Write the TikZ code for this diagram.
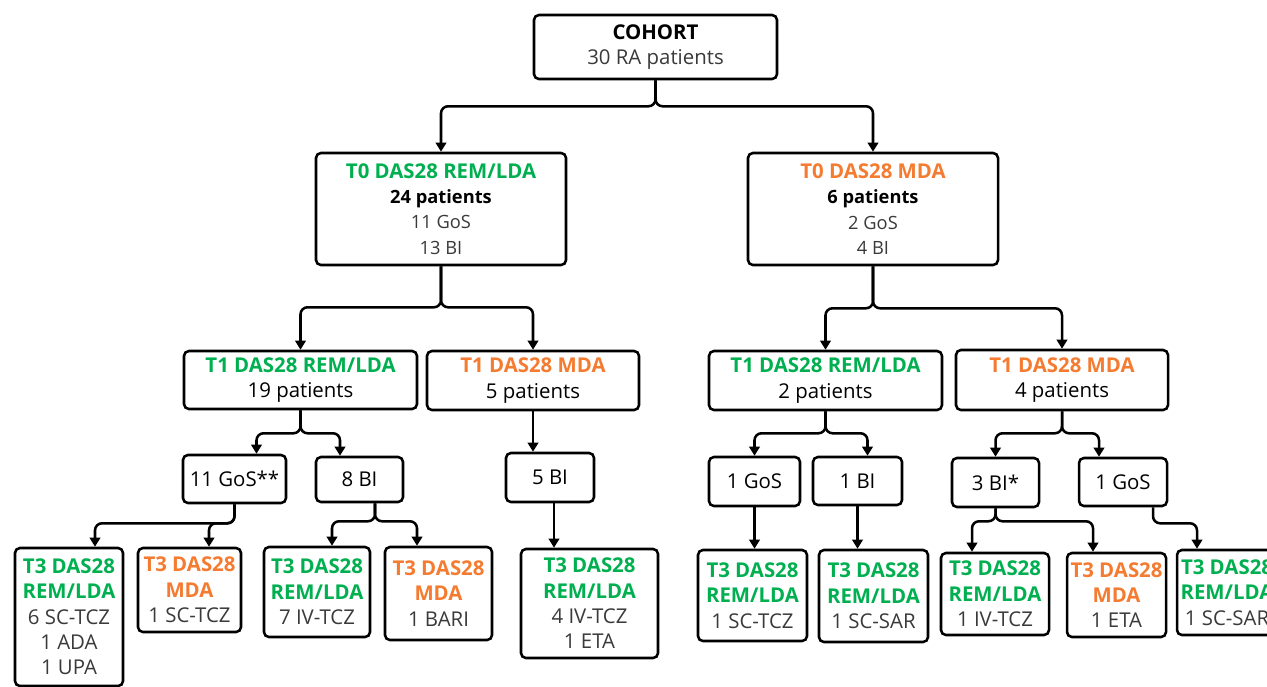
\documentclass[tikz,border=0pt]{standalone}
\usepackage{fontspec}
\setmainfont{Open Sans}
\usetikzlibrary{arrows.meta, calc}
\definecolor{remgreen}{HTML}{00B050}
\definecolor{mdaorange}{HTML}{F47B30}
\definecolor{txtgray}{HTML}{3A3A3A}
\newcommand{\remhead}[1]{{\bfseries\color{remgreen}#1}}
\newcommand{\mdahead}[1]{{\bfseries\color{mdaorange}#1}}
\newcommand{\drugline}[1]{{\color{txtgray}#1}}
\newcommand{\smallline}[1]{{\fontsize{13}{18}\selectfont#1}}

\begin{document}
\begin{tikzpicture}[x=0.025cm, y=-0.025cm,
    box/.style={draw, line width=1.8pt, rounded corners=3.5pt, align=center,
      inner sep=2pt, font=\fontsize{14.5}{18}\selectfont},
    sz/.style 2 args={minimum width=#1*0.025cm, minimum height=#2*0.025cm},
    conn/.style={line width=1.8pt, rounded corners=5pt,
      -{Triangle[length=6.5pt,width=7.5pt]}}]
            \useasboundingbox (0,0) rectangle (1267,686);
            \fill[white] (0,0) rectangle (1267,686);
            \clip (0,0) rectangle (1267,686);
            % top
            \node[box, sz={243}{64}] (cohort) at (655.5,47)
                {\textbf{COHORT}\\\drugline{30 RA patients}};
            % T0
            \node[box, sz={250}{112}] (t0rem) at (441,209)
                {\remhead{T0 DAS28 REM/LDA}\\\smallline{\textbf{24 patients}}\\\smallline{\drugline{11 GoS}}\\\smallline{\drugline{13 BI}}};
            \node[box, sz={250}{112}] (t0mda) at (873,209)
                {\mdahead{T0 DAS28 MDA}\\\smallline{\textbf{6 patients}}\\\smallline{\drugline{2 GoS}}\\\smallline{\drugline{4 BI}}};
            % T1
            \node[box, sz={233}{58}] (t1remA) at (300.5,380)
                {\remhead{T1 DAS28 REM/LDA}\\19 patients};
            \node[box, sz={212}{59}] (t1mdaA) at (533,380.5)
                {\mdahead{T1 DAS28 MDA}\\5 patients};
            \node[box, sz={233}{59}] (t1remB) at (825.5,380.5)
                {\remhead{T1 DAS28 REM/LDA}\\2 patients};
            \node[box, sz={212}{60}] (t1mdaB) at (1062,380)
                {\mdahead{T1 DAS28 MDA}\\4 patients};
            % treatment groups
            \node[box, sz={103}{48}] (gosA) at (234.5,479) {11 GoS**};
            \node[box, sz={87}{45}] (biA) at (359.5,479.5) {8 BI};
            \node[box, sz={88}{49}] (biB) at (550,477.5) {5 BI};
            \node[box, sz={91}{49}] (gosB) at (754.5,481.5) {1 GoS};
            \node[box, sz={89}{48}] (biC) at (857.5,481) {1 BI};
            \node[box, sz={87}{49}] (biD) at (995.5,482.5) {3 BI*};
            \node[box, sz={88}{48}] (gosC) at (1123,482) {1 GoS};
            % T3
            \node[box, sz={108}{138}] (t3a) at (69,617)
                {\remhead{T3 DAS28}\\\remhead{REM/LDA}\\\drugline{6 SC-TCZ}\\\drugline{1 ADA}\\\drugline{1 UPA}};
            \node[box, sz={103}{84}] (t3b) at (189.5,590)
                {\mdahead{T3 DAS28}\\\mdahead{MDA}\\\drugline{1 SC-TCZ}};
            \node[box, sz={106}{90}] (t3c) at (317,592)
                {\remhead{T3 DAS28}\\\remhead{REM/LDA}\\\drugline{7 IV-TCZ}};
            \node[box, sz={107}{93}] (t3d) at (438.5,593.5)
                {\mdahead{T3 DAS28}\\\mdahead{MDA}\\\drugline{1 BARI}};
            \node[box, sz={137}{109}] (t3e) at (589.5,603.5)
                {\remhead{T3 DAS28}\\\remhead{REM/LDA}\\\drugline{4 IV-TCZ}\\\drugline{1 ETA}};
            \node[box, sz={109}{91}] (t3f) at (752.5,595.5)
                {\remhead{T3 DAS28}\\\remhead{REM/LDA}\\\drugline{1 SC-TCZ}};
            \node[box, sz={109}{92}] (t3g) at (873.5,596)
                {\remhead{T3 DAS28}\\\remhead{REM/LDA}\\\drugline{1 SC-SAR}};
            \node[box, sz={108}{82}] (t3h) at (995,594)
                {\remhead{T3 DAS28}\\\remhead{REM/LDA}\\\drugline{1 IV-TCZ}};
            \node[box, sz={99}{84}] (t3i) at (1116.5,595)
                {\mdahead{T3 DAS28}\\\mdahead{MDA}\\\drugline{1 ETA}};
            \node[box, sz={100}{85}] (t3j) at (1227,592.5)
                {\remhead{T3 DAS28}\\\remhead{REM/LDA}\\\drugline{1 SC-SAR}};
            % connectors
            \draw[conn] (cohort.south) -- ++(0,26) -| (t0rem.north);
            \draw[conn] (cohort.south) -- ++(0,26) -| (t0mda.north);
            \draw[conn] (t0rem.south) -- ++(0,41) -| (t1remA.north);
            \draw[conn] (t0rem.south) -- ++(0,41) -| (t1mdaA.north);
            \draw[conn] (t0mda.south) -- ++(0,42) -| (t1remB.north);
            \draw[conn] (t0mda.south) -- ++(0,42) -| (t1mdaB.north);
            \draw[conn] (t1remA.south) -- ++(0,23) -| ($(gosA.north)+(22,0)$);
            \draw[conn] (t1remA.south) -- ++(0,23) -| ($(biA.north)+(-19.5,0)$);
            \draw[conn] (t1mdaA.south) -- (t1mdaA.south |- biB.north);
            \draw[conn] (t1remB.south) -- ++(0,22) -| (gosB.north);
            \draw[conn] (t1remB.south) -- ++(0,22) -| ($(biC.north)+(10,0)$);
            \draw[conn] (t1mdaB.south) -- ++(0,22) -| (biD.north);
            \draw[conn] (t1mdaB.south) -- ++(0,22) -| ($(gosC.north)+(-24,0)$);
            \draw[conn] (gosA.south) -- ++(0,19) -| ($(t3a.north)+(26,0)$);
            \draw[conn] (gosA.south) -- ++(0,19) -| ($(t3b.north)+(19.5,0)$);
            \draw[conn] ($(biA.south)+(15.5,0)$) -- ++(0,18) -| ($(t3c.north)+(15,0)$);
            \draw[conn] ($(biA.south)+(15.5,0)$) -- ++(0,18) -| ($(t3d.north)+(-21.5,0)$);
            \draw[conn] ($(biB.south)+(4,0)$) -- ($(t3e.north)+(-35.5,0)$);
            \draw[conn] (gosB.south) -- (gosB.south |- t3f.north);
            \draw[conn] (biC.south) -- (biC.south |- t3g.north);
            \draw[conn] (biD.south) -- ++(0,13) -| ($(t3h.north)+(-23,0)$);
            \draw[conn] (biD.south) -- ++(0,13) -| ($(t3i.north)+(-23.5,0)$);
            \draw[conn] ($(gosC.south)+(30,0)$) -- ++(0,16) -| ($(t3j.north)+(-30,0)$);
        \end{tikzpicture}
\end{document}
